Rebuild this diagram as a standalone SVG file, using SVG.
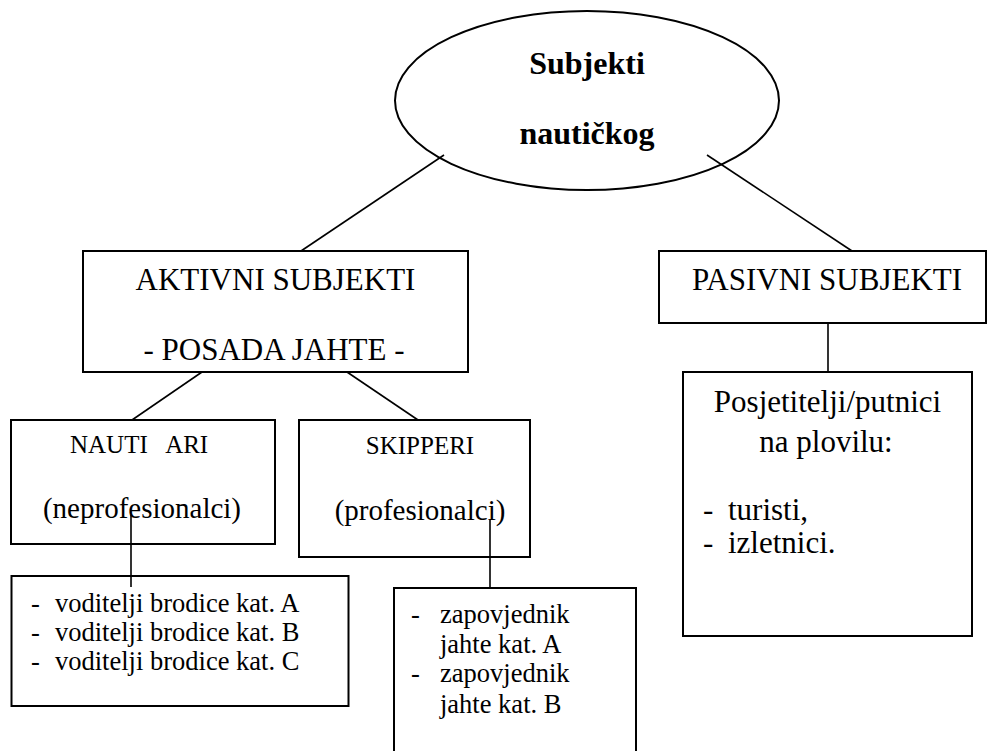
<svg xmlns="http://www.w3.org/2000/svg" width="988" height="751" viewBox="0 0 988 751">
<style>
.box{fill:#fff;stroke:#000;stroke-width:2}
.ln{stroke:#000;stroke-width:1.6;fill:none}
.c{text-anchor:middle}
.b{font-weight:bold;font-size:32px}
.l{font-size:31px}
.m{font-size:25px}
.p{font-size:29px}
.s{font-size:26.5px}
</style>
<rect width="988" height="751" fill="#fff"/>
<g font-family="'Liberation Serif', 'DejaVu Serif', serif" fill="#000">
<g id="root">
<ellipse cx="587" cy="100.5" rx="192" ry="89.5" class="box"/>
<text class="b c" x="587" y="73.5">Subjekti</text>
<text class="b c" x="587" y="143.5">nautičkog</text>
</g>
<g id="aktivni">
<rect x="83" y="251" width="385" height="121" class="box"/>
<text class="l c" x="275.5" y="290">AKTIVNI SUBJEKTI</text>
<text class="l c" x="274" y="360">- POSADA JAHTE -</text>
</g>
<g id="pasivni">
<rect x="659" y="251" width="327" height="72" class="box"/>
<text class="l c" x="827" y="290">PASIVNI SUBJEKTI</text>
</g>
<g id="nauticari">
<rect x="11" y="420" width="264" height="124" class="box"/>
<text class="m" x="70" y="453" style="white-space:pre">NAUTI   ARI</text>
<text class="p c" x="142" y="518">(neprofesionalci)</text>
</g>
<g id="skipperi">
<rect x="299" y="420" width="231" height="137" class="box"/>
<text class="m c" x="420" y="454">SKIPPERI</text>
<text class="p c" x="420" y="520">(profesionalci)</text>
</g>
<g id="posjetitelji">
<rect x="683" y="372" width="289" height="264" class="box"/>
<text class="l c" x="827.5" y="411.5">Posjetitelji/putnici</text>
<text class="l c" x="826" y="451.5">na plovilu:</text>
<text class="l" x="703" y="520">-</text>
<text class="l" x="728" y="520">turisti,</text>
<text class="l" x="703" y="553">-</text>
<text class="l" x="728" y="553">izletnici.</text>
</g>
<g id="voditelji">
<rect x="11.5" y="576" width="337" height="130" class="box"/>
<text class="s" x="31" y="611.5">-</text>
<text class="s" x="55" y="611.5">voditelji brodice kat. A</text>
<text class="s" x="31" y="641">-</text>
<text class="s" x="55" y="641">voditelji brodice kat. B</text>
<text class="s" x="31" y="670">-</text>
<text class="s" x="55" y="670">voditelji brodice kat. C</text>
</g>
<g id="zapovjednik">
<rect x="394" y="588" width="242" height="170" class="box"/>
<text class="s" x="411" y="623">-</text>
<text class="s" x="440" y="623">zapovjednik</text>
<text class="s" x="440" y="653">jahte kat. A</text>
<text class="s" x="411" y="682">-</text>
<text class="s" x="440" y="682">zapovjednik</text>
<text class="s" x="440" y="713">jahte kat. B</text>
</g>
</g>
<g id="connectors">
<line class="ln" x1="444" y1="155" x2="301" y2="251"/>
<line class="ln" x1="707" y1="155" x2="852" y2="251"/>
<line class="ln" x1="202" y1="372" x2="132" y2="420"/>
<line class="ln" x1="347" y1="372" x2="418" y2="420"/>
<line class="ln" x1="828" y1="323" x2="828" y2="372"/>
<line class="ln" x1="131" y1="515" x2="131" y2="587"/>
<line class="ln" x1="490" y1="520" x2="490" y2="588"/>
</g>
</svg>
